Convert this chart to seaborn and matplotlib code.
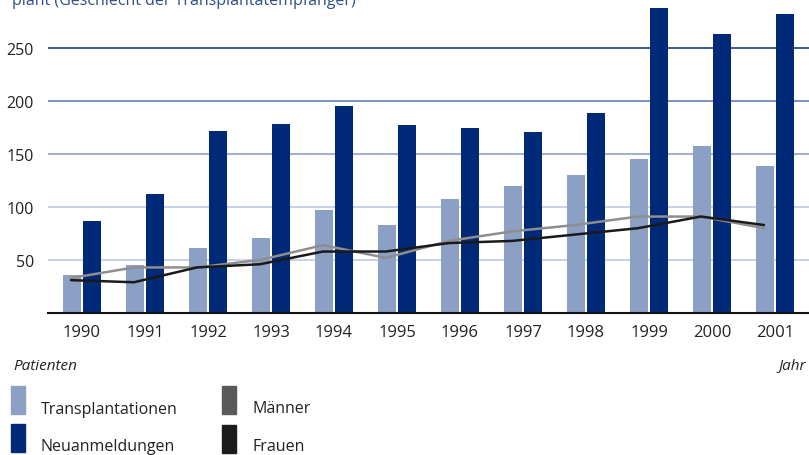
import matplotlib
matplotlib.use("Agg")
import matplotlib.pyplot as plt
import numpy as np
import pandas as pd
import seaborn as sns
from matplotlib.patches import Rectangle

# data
years = ["1990", "1991", "1992", "1993", "1994", "1995",
         "1996", "1997", "1998", "1999", "2000", "2001"]
transplantationen = [36, 45, 61, 71, 97, 83, 108, 120, 130, 145, 158, 139]
neuanmeldungen = [87, 112, 172, 178, 195, 177, 175, 171, 189, 288, 263, 282]
maenner = [33, 43, 43, 50, 64, 52, 68, 77, 83, 91, 91, 80]
frauen = [31, 29, 43, 46, 58, 58, 66, 68, 74, 80, 91, 83]
y_ticks = [50, 100, 150, 200, 250]

c_light = "#8c9fc4"
c_dark = "#002a78"
c_grey = "#8e8e8e"
c_black = "#1a1a1a"

sns.set_theme(style="white")
plt.rcParams["font.family"] = ["Open Sans", "DejaVu Sans"]

df = pd.DataFrame({
    "Jahr": years * 2,
    "Wert": transplantationen + neuanmeldungen,
    "Serie": ["Transplantationen"] * len(years) + ["Neuanmeldungen"] * len(years),
})

fig = plt.figure(figsize=(8.09, 4.56), dpi=100)
ax = fig.add_axes([48 / 809, 1 - 314 / 456, 1 - 48 / 809, 314 / 456])

# gridlines, darker towards the top
grid_colors = {50: "#c3cde6", 100: "#c3cde6", 150: "#99a8cf", 200: "#7388bd", 250: "#2f4d8a"}
for v in y_ticks:
    ax.axhline(v, color=grid_colors[v], lw=1.3, zorder=0)

sns.barplot(data=df, x="Jahr", y="Wert", hue="Serie",
            palette=[c_light, c_dark], saturation=1, width=0.635, gap=0.1,
            linewidth=0, edgecolor="none", legend=False, ax=ax, zorder=2)

x = np.arange(len(years)) - 0.175
sns.lineplot(x=x, y=maenner, color=c_grey, lw=1.8, ax=ax, zorder=3)
sns.lineplot(x=x, y=frauen, color=c_black, lw=1.8, ax=ax, zorder=4)

ax.set_xlim(-0.54, len(years) - 1 + 0.54)
ax.set_ylim(0, 314 / 1.06)
ax.set_yticks(y_ticks)
ax.set_yticklabels([str(v) for v in y_ticks], fontsize=11.5, color="#222222")
ax.tick_params(axis="x", labelsize=12, labelcolor="#222222", pad=8, length=0)
ax.tick_params(axis="y", pad=10, length=0)
ax.set_xlabel("")
ax.set_ylabel("")
for s in ["top", "right", "left"]:
    ax.spines[s].set_visible(False)
ax.spines["bottom"].set_color("#111111")
ax.spines["bottom"].set_linewidth(1.5)

# title, cut off at the top edge as in the reference
fig.text(12 / 809, 1 - 5 / 456, "plant (Geschlecht der Transplantatempfänger)",
         color="#2f4d8a", fontsize=11.5, va="baseline", ha="left")

fig.text(13 / 809, 1 - 366 / 456, "Patienten", fontsize=11, style="italic",
         color="#222222", va="center", ha="left")
fig.text(806 / 809, 1 - 366 / 456, "Jahr", fontsize=11, style="italic",
         color="#222222", va="center", ha="right")

# legend by hand
legend_items = [
    (11, 387, c_light, "Transplantationen", 41, 410),
    (11, 425, c_dark, "Neuanmeldungen", 41, 447),
    (222, 387, "#5a5a5a", "Männer", 253, 409),
    (222, 426, "#1c1c1c", "Frauen", 253, 447),
]
for px, py, col, label, tx, ty in legend_items:
    fig.patches.append(Rectangle((px / 809, 1 - (py + 28) / 456), 14 / 809, 28 / 456,
                                 transform=fig.transFigure, color=col))
    fig.text(tx / 809, 1 - ty / 456, label, fontsize=11.5, color="#222222",
             va="center", ha="left")

fig.savefig("out.png", dpi=100)
